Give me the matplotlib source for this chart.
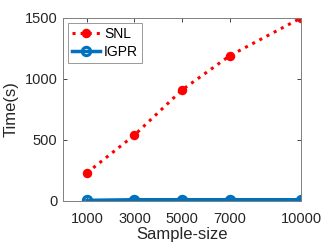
import matplotlib
matplotlib.use("Agg")
import matplotlib.pyplot as plt

sample_size = [1000, 3000, 5000, 7000, 10000]
snl = [230, 540, 910, 1190, 1500]
igpr = [5, 10, 10, 10, 10]
xtick_labels = ["1000", "3000", "5000", "7000", "10000"]

plt.rcParams['font.family'] = ['Liberation Sans', 'DejaVu Sans']
fig = plt.figure(figsize=(3.32, 2.49), dpi=100)
ax = fig.add_axes([0.19, 0.193, 0.717, 0.735])

ax.plot(sample_size, snl, linestyle=':', color='red', linewidth=2.2,
        marker='o', markersize=5.8, markerfacecolor='red', markeredgecolor='red', label='SNL')
ax.plot(sample_size, igpr, linestyle='-', color=(0, 0.447, 0.741), linewidth=2.5,
        marker='o', markersize=6, markerfacecolor='none', markeredgewidth=2.2,
        markeredgecolor=(0, 0.447, 0.741), label='IGPR')

ax.set_xlim(0, 10000)
ax.set_ylim(0, 1500)
ax.set_xticks(sample_size)
ax.set_xticklabels(xtick_labels)
ax.set_yticks([0, 500, 1000, 1500])
ax.tick_params(direction='in', length=3, width=0.6, colors='#262626', labelsize=10.5,
               top=True, right=True)
ax.tick_params(axis='x', pad=8)
ax.tick_params(axis='y', pad=4)
for s in ax.spines.values():
    s.set_color('#808080')
    s.set_linewidth(0.7)
ax.set_xlabel('Sample-size', fontsize=12, color='#262626', labelpad=1)
ax.set_ylabel('Time(s)', fontsize=12, color='#262626', labelpad=4)

leg = ax.legend(loc='upper left', fontsize=10, frameon=True, fancybox=False,
                handlelength=2.0, borderpad=0.3, labelspacing=0.3, handletextpad=0.3,
                borderaxespad=0.35)
leg.get_frame().set_edgecolor('#808080')
leg.get_frame().set_linewidth(0.7)

fig.savefig('out.png', dpi=100)
